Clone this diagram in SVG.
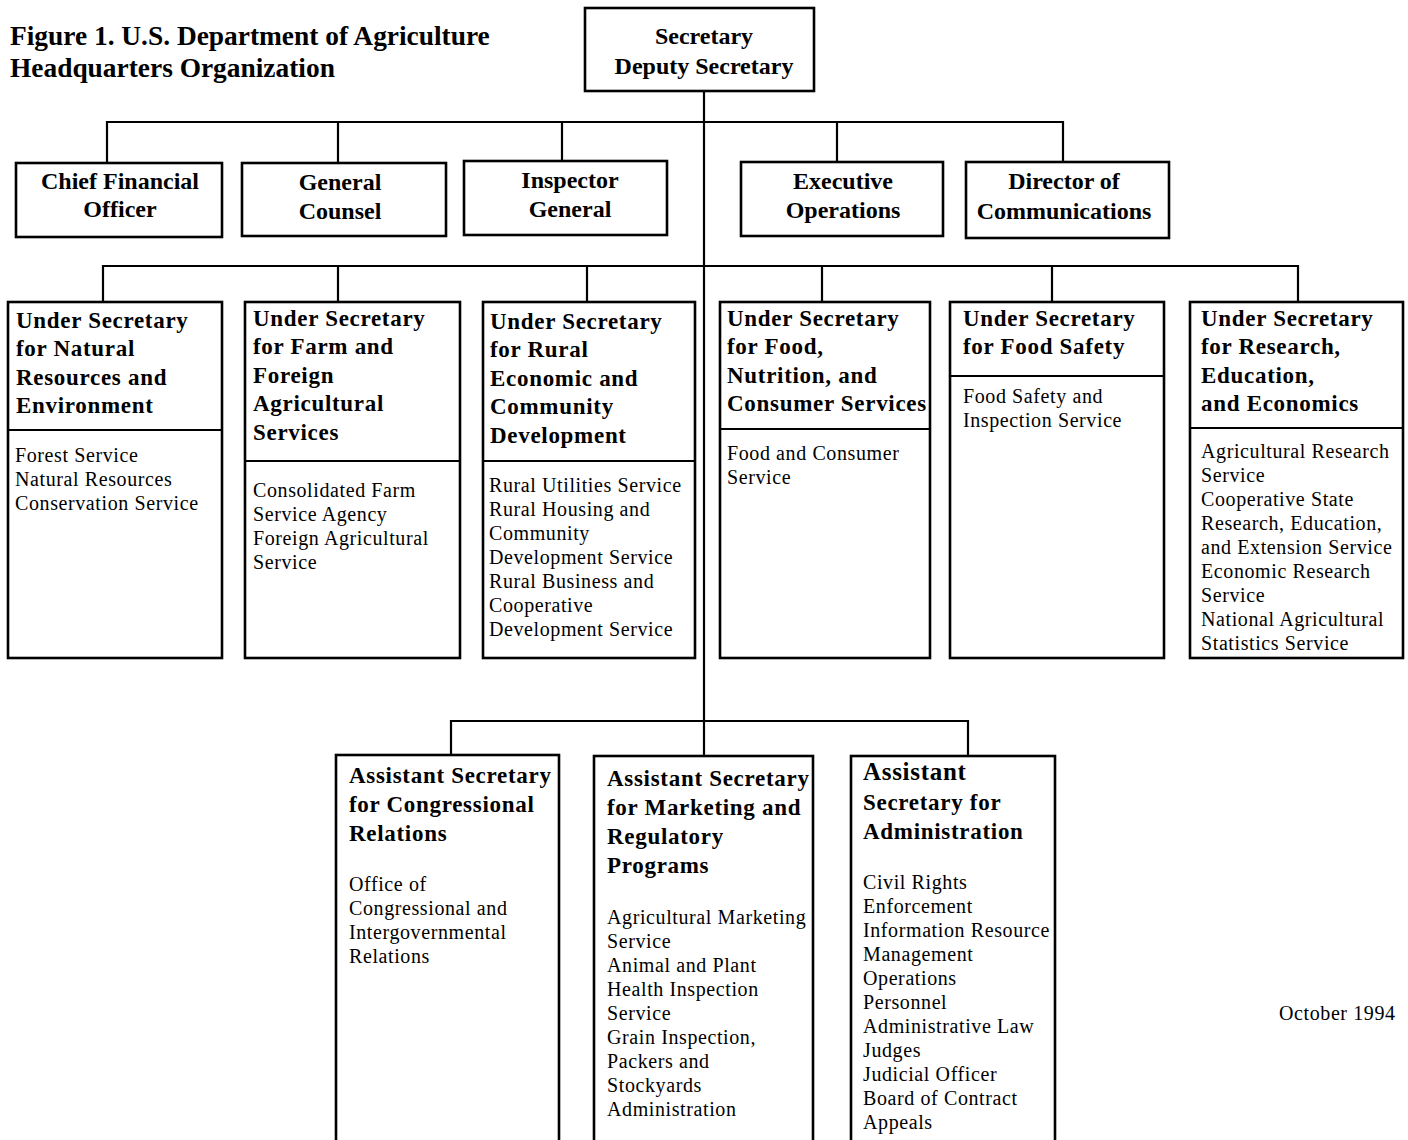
<svg xmlns="http://www.w3.org/2000/svg" width="1408" height="1140" viewBox="0 0 1408 1140">
<style>
.bx{fill:#fff;stroke:#000;stroke-width:2.6}
.dv{stroke:#000;stroke-width:2.2;fill:none}
.cn{stroke:#000;stroke-width:2.2;fill:none}
text{font-family:"Liberation Serif","Times New Roman",serif;fill:#000}
.ti{font-size:27.4px;font-weight:bold}
.tp{font-size:24px;font-weight:bold;text-anchor:middle}
.h{font-size:23px;font-weight:bold;letter-spacing:0.7px}
.s{font-size:20px;letter-spacing:0.6px}
</style>
<rect width="1408" height="1140" fill="#fff"/>
<g id="title">
<text class="ti" x="10" y="45">Figure 1. U.S. Department of Agriculture</text>
<text class="ti" x="10" y="77">Headquarters Organization</text>
</g>
<g id="connectors">
<path class="cn" d="M704 91 V756"/>
<path class="cn" d="M107 163 V122 H1063 V162 M338 122 V163 M562 122 V161 M837 122 V162"/>
<path class="cn" d="M103 302 V266 H1298 V302 M338 266 V302 M587 266 V302 M822 266 V302 M1052 266 V302"/>
<path class="cn" d="M451 755 V721 H968 V756"/>
</g>
<g id="secretary">
<rect class="bx" x="585" y="8" width="229" height="83"/>
<text class="tp" x="704" y="44">Secretary</text>
<text class="tp" x="704" y="74">Deputy Secretary</text>
</g>
<g id="cfo">
<rect class="bx" x="16" y="163" width="206" height="74"/>
<text class="tp" x="120" y="189">Chief Financial</text>
<text class="tp" x="120" y="217">Officer</text>
</g>
<g id="general-counsel">
<rect class="bx" x="242" y="163" width="204" height="73"/>
<text class="tp" x="340" y="190">General</text>
<text class="tp" x="340" y="219">Counsel</text>
</g>
<g id="inspector-general">
<rect class="bx" x="464" y="161" width="203" height="74"/>
<text class="tp" x="570" y="188">Inspector</text>
<text class="tp" x="570" y="217">General</text>
</g>
<g id="executive-operations">
<rect class="bx" x="741" y="162" width="202" height="74"/>
<text class="tp" x="843" y="189">Executive</text>
<text class="tp" x="843" y="218">Operations</text>
</g>
<g id="director-communications">
<rect class="bx" x="966" y="162" width="203" height="76"/>
<text class="tp" x="1064" y="189">Director of</text>
<text class="tp" x="1064" y="219">Communications</text>
</g>
<g id="us-natural-resources">
<rect class="bx" x="8" y="302" width="214" height="356"/>
<line class="dv" x1="8" y1="430" x2="222" y2="430"/>
<text class="h" x="16" y="328">Under Secretary</text>
<text class="h" x="16" y="356">for Natural</text>
<text class="h" x="16" y="385">Resources and</text>
<text class="h" x="16" y="413">Environment</text>
<text class="s" x="15" y="462">Forest Service</text>
<text class="s" x="15" y="486">Natural Resources</text>
<text class="s" x="15" y="510">Conservation Service</text>
</g>
<g id="us-farm-foreign">
<rect class="bx" x="245" y="302" width="215" height="356"/>
<line class="dv" x1="245" y1="461" x2="460" y2="461"/>
<text class="h" x="253" y="326">Under Secretary</text>
<text class="h" x="253" y="354">for Farm and</text>
<text class="h" x="253" y="383">Foreign</text>
<text class="h" x="253" y="411">Agricultural</text>
<text class="h" x="253" y="440">Services</text>
<text class="s" x="253" y="497">Consolidated Farm</text>
<text class="s" x="253" y="521">Service Agency</text>
<text class="s" x="253" y="545">Foreign Agricultural</text>
<text class="s" x="253" y="569">Service</text>
</g>
<g id="us-rural">
<rect class="bx" x="483" y="302" width="212" height="356"/>
<line class="dv" x1="483" y1="461" x2="695" y2="461"/>
<text class="h" x="490" y="329">Under Secretary</text>
<text class="h" x="490" y="357">for Rural</text>
<text class="h" x="490" y="386">Economic and</text>
<text class="h" x="490" y="414">Community</text>
<text class="h" x="490" y="443">Development</text>
<text class="s" x="489" y="492">Rural Utilities Service</text>
<text class="s" x="489" y="516">Rural Housing and</text>
<text class="s" x="489" y="540">Community</text>
<text class="s" x="489" y="564">Development Service</text>
<text class="s" x="489" y="588">Rural Business and</text>
<text class="s" x="489" y="612">Cooperative</text>
<text class="s" x="489" y="636">Development Service</text>
</g>
<g id="us-food-nutrition">
<rect class="bx" x="720" y="302" width="210" height="356"/>
<line class="dv" x1="720" y1="429" x2="930" y2="429"/>
<text class="h" x="727" y="326">Under Secretary</text>
<text class="h" x="727" y="354">for Food,</text>
<text class="h" x="727" y="383">Nutrition, and</text>
<text class="h" x="727" y="411">Consumer Services</text>
<text class="s" x="727" y="460">Food and Consumer</text>
<text class="s" x="727" y="484">Service</text>
</g>
<g id="us-food-safety">
<rect class="bx" x="950" y="302" width="214" height="356"/>
<line class="dv" x1="950" y1="376" x2="1164" y2="376"/>
<text class="h" x="963" y="326">Under Secretary</text>
<text class="h" x="963" y="354">for Food Safety</text>
<text class="s" x="963" y="403">Food Safety and</text>
<text class="s" x="963" y="427">Inspection Service</text>
</g>
<g id="us-research">
<rect class="bx" x="1190" y="302" width="213" height="356"/>
<line class="dv" x1="1190" y1="428" x2="1403" y2="428"/>
<text class="h" x="1201" y="326">Under Secretary</text>
<text class="h" x="1201" y="354">for Research,</text>
<text class="h" x="1201" y="383">Education,</text>
<text class="h" x="1201" y="411">and Economics</text>
<text class="s" x="1201" y="458">Agricultural Research</text>
<text class="s" x="1201" y="482">Service</text>
<text class="s" x="1201" y="506">Cooperative State</text>
<text class="s" x="1201" y="530">Research, Education,</text>
<text class="s" x="1201" y="554">and Extension Service</text>
<text class="s" x="1201" y="578">Economic Research</text>
<text class="s" x="1201" y="602">Service</text>
<text class="s" x="1201" y="626">National Agricultural</text>
<text class="s" x="1201" y="650">Statistics Service</text>
</g>
<g id="as-congressional">
<rect class="bx" x="336" y="755" width="223" height="400"/>
<text class="h" x="349" y="783">Assistant Secretary</text>
<text class="h" x="349" y="812">for Congressional</text>
<text class="h" x="349" y="841">Relations</text>
<text class="s" x="349" y="891">Office of</text>
<text class="s" x="349" y="915">Congressional and</text>
<text class="s" x="349" y="939">Intergovernmental</text>
<text class="s" x="349" y="963">Relations</text>
</g>
<g id="as-marketing">
<rect class="bx" x="594" y="756" width="219" height="400"/>
<text class="h" x="607" y="786">Assistant Secretary</text>
<text class="h" x="607" y="815">for Marketing and</text>
<text class="h" x="607" y="844">Regulatory</text>
<text class="h" x="607" y="873">Programs</text>
<text class="s" x="607" y="924">Agricultural Marketing</text>
<text class="s" x="607" y="948">Service</text>
<text class="s" x="607" y="972">Animal and Plant</text>
<text class="s" x="607" y="996">Health Inspection</text>
<text class="s" x="607" y="1020">Service</text>
<text class="s" x="607" y="1044">Grain Inspection,</text>
<text class="s" x="607" y="1068">Packers and</text>
<text class="s" x="607" y="1092">Stockyards</text>
<text class="s" x="607" y="1116">Administration</text>
</g>
<g id="as-administration">
<rect class="bx" x="851" y="756" width="204" height="400"/>
<text class="h" x="863" y="780" style="font-size:25px">Assistant</text>
<text class="h" x="863" y="810">Secretary for</text>
<text class="h" x="863" y="839">Administration</text>
<text class="s" x="863" y="889">Civil Rights</text>
<text class="s" x="863" y="913">Enforcement</text>
<text class="s" x="863" y="937">Information Resource</text>
<text class="s" x="863" y="961">Management</text>
<text class="s" x="863" y="985">Operations</text>
<text class="s" x="863" y="1009">Personnel</text>
<text class="s" x="863" y="1033">Administrative Law</text>
<text class="s" x="863" y="1057">Judges</text>
<text class="s" x="863" y="1081">Judicial Officer</text>
<text class="s" x="863" y="1105">Board of Contract</text>
<text class="s" x="863" y="1129">Appeals</text>
</g>
<g id="date">
<text class="s" x="1279" y="1020">October 1994</text>
</g>
</svg>
